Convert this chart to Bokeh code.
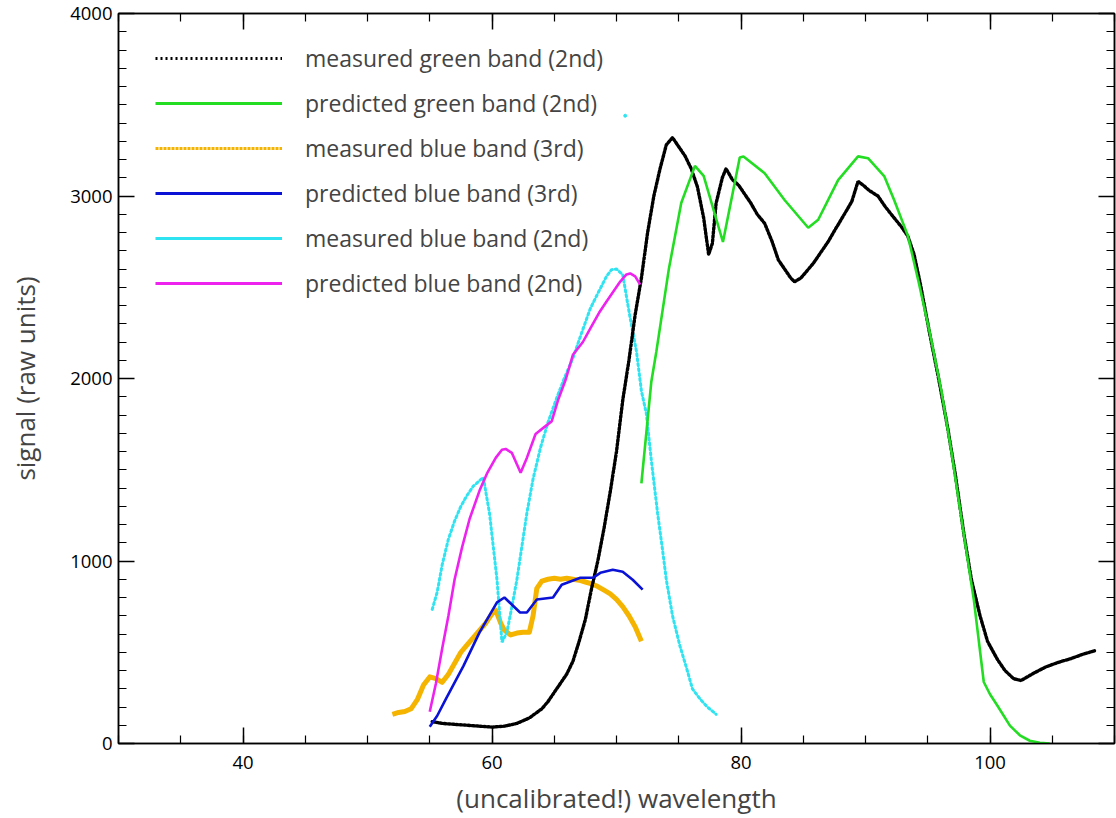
from bokeh.plotting import figure
from bokeh.models import (Range1d, LinearAxis, SingleIntervalTicker, Legend, LegendItem)
from bokeh.embed import file_html
from bokeh.resources import INLINE

# ---------------- data ----------------
# measured green band (2nd order) - black dots
mg_x = [55.2, 56, 57, 58, 59, 60, 61, 62, 63, 64, 64.5, 65, 65.5, 66, 66.5, 67, 67.5, 68, 68.5,
        69, 69.5, 70, 70.5, 71, 71.5, 72, 72.5, 73, 73.5, 74, 74.5, 75, 75.5, 76, 76.5, 77,
        77.4, 77.7, 78, 78.5, 78.8, 79.3, 79.8, 80.3, 80.8, 81.3, 81.9, 82.5, 83, 83.5, 84,
        84.3, 84.8, 85.3, 85.8, 86.3, 87, 87.6, 88.3, 88.9, 89.4, 89.8, 90.3, 91, 91.6, 92.3,
        92.9, 93.4, 93.9, 94.4, 95.2, 95.9, 96.6, 97.2, 97.9, 98.5, 99.2, 99.8, 100.6, 101.2,
        101.9, 102.5, 103.5, 104.5, 105.5, 106.5, 107.5, 108.5]
mg_y = [120, 110, 105, 100, 95, 90, 95, 110, 140, 190, 230, 280, 330, 380, 450, 560, 680, 850, 1000,
        1180, 1380, 1600, 1880, 2100, 2350, 2550, 2800, 3000, 3150, 3280, 3320, 3270, 3220, 3150, 3050, 2880,
        2680, 2740, 2960, 3100, 3150, 3090, 3060, 3010, 2960, 2900, 2850, 2750, 2650, 2600, 2550,
        2530, 2550, 2590, 2630, 2680, 2750, 2820, 2900, 2970, 3080, 3060, 3030, 3000, 2940, 2880,
        2830, 2780, 2680, 2520, 2230, 1990, 1730, 1480, 1150, 900, 700, 560, 460, 400,
        355, 345, 385, 420, 445, 465, 490, 510]

# predicted green band (2nd order)
pg_x = [72.0, 72.8, 73.2, 74.2, 75.2, 76.3, 77.0, 78.55, 79.9, 80.2, 81.9, 83.5, 85.4, 86.2,
        87.8, 89.4, 90.2, 91.5, 92.3, 93.4, 94.3, 95.2, 96.1, 96.9, 97.8, 98.7, 99.5, 100.0,
        100.6, 101.6, 102.4, 103.2, 104.0, 104.8]
pg_y = [1426, 1984, 2147, 2598, 2962, 3165, 3110, 2748, 3211, 3217, 3125, 2978, 2826, 2870,
        3087, 3217, 3207, 3109, 2978, 2783, 2520, 2239, 1930, 1600, 1190, 788, 337, 270,
        207, 98, 45, 15, 4, 0]

# measured blue band (3rd order) - gold
mb3_x = [52, 52.5, 53, 53.5, 54, 54.5, 55, 55.5, 56, 56.5, 57, 57.5, 58, 58.5, 59, 59.5, 60,
         60.3, 60.7, 61, 61.5, 62, 62.5, 63, 63.3, 63.6, 64, 64.5, 65, 65.5, 66, 66.5, 67,
         67.5, 68, 68.5, 69, 69.5, 70, 70.5, 71, 71.5, 72]
mb3_y = [160, 170, 175, 190, 240, 320, 365, 355, 335, 380, 440, 500, 540, 580, 620, 660, 710,
         730, 660, 620, 595, 605, 610, 610, 700, 850, 890, 900, 905, 900, 905, 900, 895,
         885, 875, 860, 840, 820, 790, 750, 700, 640, 560]

# predicted blue band (3rd order)
pb3_x = [55.0, 55.6, 56.3, 57.7, 59.0, 60.4, 61.0, 62.25, 62.8, 63.6, 64.9, 65.6, 67.1, 68.1,
         68.7, 69.7, 70.5, 71.3, 72.1]
pb3_y = [92, 152, 245, 424, 609, 773, 800, 718, 718, 789, 800, 870, 908, 908,
         935, 952, 941, 897, 843]

# measured blue band (2nd order) - cyan dots
mb2_x = [55.2, 55.6, 56.0, 56.5, 57.0, 57.5, 58.0, 58.5, 59.0, 59.3, 59.8, 60.1, 60.4, 60.8,
         61.2, 61.6, 62.0, 62.4, 62.8, 63.3, 63.9, 64.5, 65.2, 65.8, 66.5, 67.2, 67.9, 68.6,
         69.2, 69.6, 70.0, 70.5, 71.1, 71.6, 72.0, 72.4, 72.8, 73.3, 73.7, 74.0, 74.5,
         75.1, 75.6, 76.1, 76.7, 77.3, 78.0]
mb2_y = [735, 830, 980, 1120, 1220, 1300, 1360, 1410, 1440, 1458, 1262, 1080, 898, 555,
         610, 750, 898, 1080, 1262, 1450, 1622, 1760, 1894, 2000, 2112, 2250, 2384, 2480,
         2560, 2596, 2600, 2569, 2330, 2150, 1932, 1807, 1550, 1262, 1060, 898, 700,
         533, 420, 299, 245, 200, 160]
mb2_out_x = [70.7]
mb2_out_y = [3440]

# predicted blue band (2nd order)
pb2_x = [55.0, 55.5, 56.0, 56.5, 57.0, 57.6, 58.2, 59.0, 59.6, 60.3, 60.8, 61.1, 61.6, 62.0,
         62.3, 62.8, 63.5, 64.3, 64.8, 65.3, 65.9, 66.5, 67.3, 67.9, 68.6, 69.2, 70.3, 70.8,
         71.1, 71.5, 71.9]
pb2_y = [174, 330, 520, 700, 900, 1076, 1230, 1386, 1480, 1565, 1610, 1614, 1592, 1530,
         1484, 1565, 1696, 1739, 1766, 1880, 1990, 2130, 2200, 2275, 2360, 2422, 2531, 2570,
         2576, 2560, 2514]

legend_labels = ["measured green band (2nd)", "predicted green band (2nd)",
                 "measured blue band (3rd)", "predicted blue band (3rd)",
                 "measured blue band (2nd)", "predicted blue band (2nd)"]
x_title = "(uncalibrated!) wavelength"
y_title = "signal (raw units)"
x_tick_interval = 20
y_tick_interval = 1000

# ---------------- styles ----------------
FONT = "Open Sans"
BLACK = "#000000"
GREEN = "#22dd22"
GOLD = "#f5b400"
BLUE = "#0a12d6"
CYAN = "#2fe3f0"
MAGENTA = "#ee22ee"
NAN = float("nan")

p = figure(width=1116, height=818, output_backend="svg", toolbar_location=None,
           x_range=Range1d(30, 110), y_range=Range1d(0, 4000),
           min_border_left=118, min_border_right=2, min_border_top=13, min_border_bottom=73,
           x_axis_location=None, y_axis_location=None)
p.grid.visible = False
p.outline_line_color = "black"
p.outline_line_width = 1.5
p.background_fill_color = "white"
p.border_fill_color = "white"


def style_axis(ax, labels=True):
    ax.axis_line_color = "black"
    ax.axis_line_width = 1.5
    ax.major_tick_in = 16
    ax.major_tick_out = 0
    ax.minor_tick_in = 8
    ax.minor_tick_out = 0
    ax.major_tick_line_width = 1.5
    ax.minor_tick_line_width = 1.2
    ax.major_tick_line_color = "black"
    ax.minor_tick_line_color = "black"
    ax.major_label_text_font = FONT
    ax.major_label_text_color = "black"
    if labels:
        ax.major_label_text_font_size = "18.5px"
    else:
        ax.major_label_text_font_size = "1px"
        ax.major_label_standoff = 0


xb = LinearAxis(ticker=SingleIntervalTicker(interval=x_tick_interval, num_minor_ticks=4),
                axis_label=x_title)
style_axis(xb)
xb.major_label_standoff = 12
xb.axis_label_text_font = FONT
xb.axis_label_text_font_size = "26px"
xb.axis_label_text_font_style = "normal"
xb.axis_label_standoff = 8
p.add_layout(xb, "below")

yl = LinearAxis(ticker=SingleIntervalTicker(interval=y_tick_interval, num_minor_ticks=10),
                axis_label=y_title)
style_axis(yl)
yl.major_label_standoff = 6
yl.axis_label_text_font = FONT
yl.axis_label_text_font_size = "26px"
yl.axis_label_text_font_style = "normal"
yl.axis_label_standoff = 24
p.add_layout(yl, "left")

xtp = LinearAxis(ticker=SingleIntervalTicker(interval=x_tick_interval, num_minor_ticks=4))
style_axis(xtp, labels=False)
xtp.major_label_overrides = {v: "" for v in range(0, 141, x_tick_interval)}
p.add_layout(xtp, "above")

yr = LinearAxis(ticker=SingleIntervalTicker(interval=y_tick_interval, num_minor_ticks=10))
style_axis(yr, labels=False)
yr.major_label_overrides = {v: "" for v in range(0, 5001, y_tick_interval)}
p.add_layout(yr, "right")

# ---------------- data marks ----------------
p.line(mb3_x, mb3_y, line_color=GOLD, line_width=5, line_join="round")
p.line(mb2_x, mb2_y, line_color=CYAN, line_width=3, line_dash="2 3", line_cap="round")
p.scatter(mb2_out_x, mb2_out_y, size=3, color=CYAN)
p.line(mg_x, mg_y, line_color=BLACK, line_width=3.4, line_dash="2 2", line_cap="round")
p.line(pg_x, pg_y, line_color=GREEN, line_width=2.6)
p.line(pb3_x, pb3_y, line_color=BLUE, line_width=2.6)
p.line(pb2_x, pb2_y, line_color=MAGENTA, line_width=2.6)

# legend glyphs (renderers with no drawable point, carrying only the legend style)
lg = [
    p.line([NAN], [NAN], line_color=BLACK, line_width=3, line_dash="2 3"),
    p.line([NAN], [NAN], line_color=GREEN, line_width=3),
    p.line([NAN], [NAN], line_color=GOLD, line_width=3, line_dash="3 1"),
    p.line([NAN], [NAN], line_color=BLUE, line_width=3),
    p.line([NAN], [NAN], line_color=CYAN, line_width=3),
    p.line([NAN], [NAN], line_color=MAGENTA, line_width=3),
]
legend = Legend(items=[LegendItem(label=t, renderers=[r]) for t, r in zip(legend_labels, lg)],
                location=(37, 444), margin=0, padding=0, spacing=13,
                glyph_width=127, glyph_height=20, label_height=32, label_standoff=23,
                label_text_font=FONT, label_text_font_size="23px",
                border_line_color=None, background_fill_alpha=0)
p.add_layout(legend)

open("out.html", "w").write(file_html(p, INLINE))
